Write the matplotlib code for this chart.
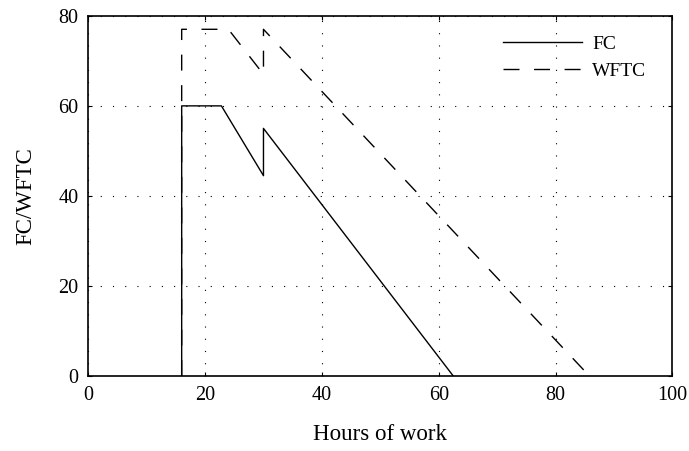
import matplotlib.pyplot as plt

plt.rcParams['font.family'] = ['Liberation Serif', 'DejaVu Serif']

# FC and WFTC as a function of hours of work
fc_hours = [16, 16, 22.8, 30, 30, 62.5]
fc_values = [0, 60, 60, 44.5, 55, 0]
wftc_hours = [16, 16, 24, 30, 30, 85.8]
wftc_values = [0, 77, 77, 67, 77, 0]

fig = plt.figure(figsize=(6.89, 4.51), dpi=100)
ax = fig.add_axes([0.128, 0.166, 0.848, 0.799])

ax.plot(fc_hours, fc_values, color='black', lw=1.0, label='FC')
ax.plot(wftc_hours, wftc_values, color='black', lw=1.0, dashes=(11.5, 10.5), label='WFTC')

ax.set_xlim(0, 100)
ax.set_ylim(0, 80)
ax.set_xticks([0, 20, 40, 60, 80, 100])
ax.set_yticks([0, 20, 40, 60, 80])
ax.grid(True, color='black', linestyle=(0, (1, 10)), linewidth=0.8)
ax.tick_params(direction='in', top=True, right=True, labelsize=14.5, length=3, pad=7)
for s in ax.spines.values():
    s.set_linewidth(1.2)

ax.set_xlabel('Hours of work', fontsize=16.5, labelpad=14)
ax.set_ylabel('FC/WFTC', fontsize=16.5, labelpad=16)

ax.legend(loc='upper right', frameon=False, fontsize=14, handlelength=4.1,
          handletextpad=0.5, labelspacing=0.5, bbox_to_anchor=(0.985, 0.995))

fig.savefig('out.png', dpi=100)
